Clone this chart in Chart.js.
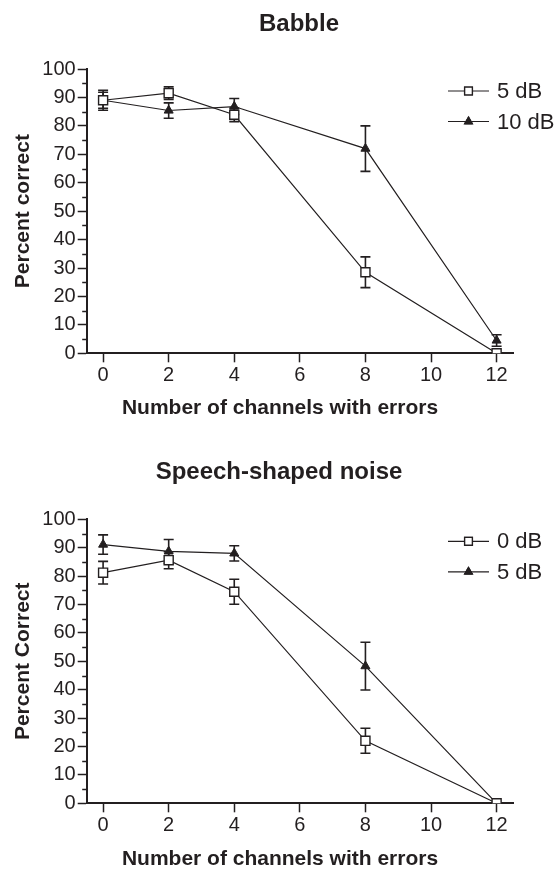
<!DOCTYPE html>
<html>
<head>
<meta charset="utf-8">
<script src="https://cdn.jsdelivr.net/npm/chart.js@4.4.1/dist/chart.umd.min.js"></script>
<style>
  html, body { margin: 0; padding: 0; background: #fff; }
  #wrap { position: relative; width: 558px; height: 869px; }
  canvas { position: absolute; left: 0; }
  #babble { top: 0; }
  #ssn { top: 430px; }
</style>
</head>
<body>
<div id="wrap">
  <canvas id="babble" width="558" height="430"></canvas>
  <canvas id="ssn" width="558" height="439"></canvas>
</div>
<script>
// channels with errors (x) and axis ticks
const channels = [0, 2, 4, 8, 12];
const xTicks = [0, 2, 4, 6, 8, 10, 12];
const yTicks = [0, 10, 20, 30, 40, 50, 60, 70, 80, 90, 100];
const yMinor = [5, 15, 25, 35, 45, 55, 65, 75, 85, 95];

// Babble
const babble5 = [89, 91.5, 83.9, 28.5, 0];
const babble5Err = [3.5, 2.2, 2.4, 5.4, 0];
const babble10 = [89, 85.4, 86.8, 72, 4.5];
const babble10Err = [2.8, 2.7, 2.8, 8, 2];

// Speech-shaped noise
const ssn0 = [81.2, 85.6, 74.5, 22, 0];
const ssn0Err = [4, 3, 4.4, 4.4, 0];
const ssn5 = [91.1, 88.7, 88, 48.3, 0];
const ssn5Err = [3.4, 4.2, 2.7, 8.4, 0];

const xTitle = 'Number of channels with errors';

const ink = '#231f20';
const FONT = 'Liberation Sans, Arial, Helvetica, sans-serif';

// error bars with caps, drawn under the markers
const errorBars = {
  id: 'errorBars',
  beforeDatasetsDraw(chart) {
    const {ctx, scales: {x, y}} = chart;
    ctx.save();
    ctx.strokeStyle = ink;
    ctx.lineWidth = 1.6;
    chart.data.datasets.forEach(ds => {
      ds.data.forEach((p, i) => {
        const e = ds.err[i];
        if (!e) return;
        const px = x.getPixelForValue(p.x);
        const top = y.getPixelForValue(p.y + e);
        const bot = y.getPixelForValue(p.y - e);
        ctx.beginPath();
        ctx.moveTo(px, top); ctx.lineTo(px, bot);
        ctx.moveTo(px - 5, top); ctx.lineTo(px + 5, top);
        ctx.moveTo(px - 5, bot); ctx.lineTo(px + 5, bot);
        ctx.stroke();
      });
    });
    ctx.restore();
  }
};

// short minor ticks on the y axis
const minorTicks = {
  id: 'minorTicks',
  afterDraw(chart) {
    const {ctx, scales: {y}, chartArea} = chart;
    ctx.save();
    ctx.strokeStyle = ink;
    ctx.lineWidth = 1.5;
    yMinor.forEach(v => {
      const py = Math.round(y.getPixelForValue(v)) + 0.5;
      ctx.beginPath();
      ctx.moveTo(chartArea.left - 4.5, py);
      ctx.lineTo(chartArea.left, py);
      ctx.stroke();
    });
    ctx.restore();
  }
};

// panel title and x axis title
const panelText = {
  id: 'panelText',
  afterDraw(chart, args, opts) {
    const {ctx} = chart;
    ctx.save();
    ctx.fillStyle = ink;
    ctx.textAlign = 'center';
    ctx.textBaseline = 'middle';
    ctx.font = 'bold 24px ' + FONT;
    ctx.fillText(opts.title, opts.titleX, opts.titleY);
    ctx.font = 'bold 21px ' + FONT;
    ctx.fillText(xTitle, opts.xTitleX, opts.xTitleY);
    ctx.restore();
  }
};

// legend box at the upper right of the plot
const sideLegend = {
  id: 'sideLegend',
  afterDraw(chart) {
    const {ctx, chartArea} = chart;
    ctx.save();
    chart.data.datasets.forEach((ds, i) => {
      const yy = chartArea.top + 22 + i * 30.5;
      const x0 = chartArea.right - 65, x1 = chartArea.right - 24;
      ctx.strokeStyle = ink;
      ctx.lineWidth = 1.2;
      ctx.beginPath();
      ctx.moveTo(x0, yy); ctx.lineTo(x1, yy);
      ctx.stroke();
      Chart.helpers.drawPoint(ctx, {
        pointStyle: ds.pointStyle,
        radius: ds.legendRadius,
        borderWidth: ds.pointBorderWidth
      }, (x0 + x1) / 2, yy);
      ctx.fillStyle = ds.pointBackgroundColor;
      ctx.strokeStyle = ink;
      ctx.lineWidth = ds.pointBorderWidth;
      ctx.fill();
      ctx.stroke();
      ctx.fillStyle = ink;
      ctx.font = '22px ' + FONT;
      ctx.textBaseline = 'middle';
      ctx.fillText(ds.label, chartArea.right - 16, yy + 1);
    });
    ctx.restore();
  }
};

function series(ys, errs, label, style) {
  const open = style === 'rect';
  return {
    label: label,
    data: channels.map((c, i) => ({x: c, y: ys[i]})),
    err: errs,
    borderColor: ink,
    borderWidth: 1.2,
    pointStyle: style,
    pointRadius: open ? 6.4 : 5.2,
    legendRadius: open ? 5.5 : 4.6,
    pointBorderWidth: open ? 1.4 : 1,
    pointBackgroundColor: open ? '#ffffff' : ink,
    pointBorderColor: ink,
    fill: false,
    showLine: true,
    tension: 0
  };
}

function makeChart(id, title, yTitle, datasets, area) {
  const h = document.getElementById(id).height;
  return new Chart(document.getElementById(id), {
    type: 'scatter',
    data: {datasets: datasets},
    options: {
      responsive: false,
      animation: false,
      devicePixelRatio: 1,
      layout: {padding: {left: 0, right: 45, top: area.top, bottom: 0}},
      plugins: {
        legend: {display: false},
        tooltip: {enabled: false},
        panelText: {
          title: title,
          titleX: area.titleX,
          titleY: area.titleY,
          xTitleX: 280,
          xTitleY: area.xTitleY
        }
      },
      scales: {
        x: {
          type: 'linear',
          min: -0.5,
          max: 12.5,
          afterFit: s => { s.height = h - area.bottom; },
          afterBuildTicks: s => { s.ticks = xTicks.map(v => ({value: v})); },
          border: {display: true, color: ink, width: 2},
          grid: {drawOnChartArea: false, drawTicks: true, tickLength: 9, color: ink, tickWidth: 1.5},
          ticks: {color: ink, padding: 1, font: {family: FONT, size: 20}, maxRotation: 0}
        },
        y: {
          min: 0,
          max: 100,
          afterFit: s => { s.width = 86.7; },
          afterBuildTicks: s => { s.ticks = yTicks.map(v => ({value: v})); },
          border: {display: true, color: ink, width: 2},
          grid: {drawOnChartArea: false, drawTicks: true, tickLength: 9, color: ink, tickWidth: 1.5},
          ticks: {color: ink, padding: 2, font: {family: FONT, size: 20}},
          title: {
            display: true,
            text: yTitle,
            color: ink,
            font: {family: FONT, size: 21, weight: 'bold', lineHeight: 1},
            padding: {top: 12.5, bottom: 0}
          }
        }
      }
    },
    plugins: [errorBars, minorTicks, sideLegend, panelText]
  });
}

makeChart('babble', 'Babble', 'Percent correct', [
  series(babble5, babble5Err, '5 dB', 'rect'),
  series(babble10, babble10Err, '10 dB', 'triangle')
], {top: 69, bottom: 353.3, titleX: 299, titleY: 24, xTitleY: 408});

makeChart('ssn', 'Speech-shaped noise', 'Percent Correct', [
  series(ssn0, ssn0Err, '0 dB', 'rect'),
  series(ssn5, ssn5Err, '5 dB', 'triangle')
], {top: 89.3, bottom: 373.3, titleX: 279, titleY: 42.5, xTitleY: 429});
</script>
</body>
</html>
